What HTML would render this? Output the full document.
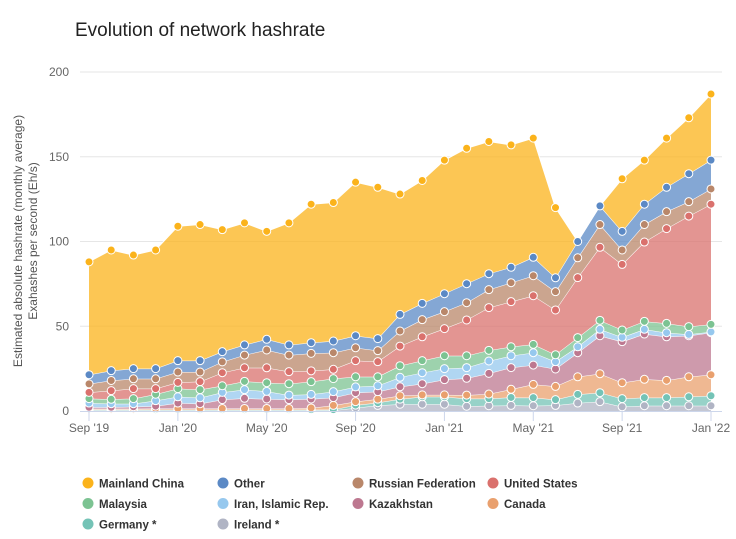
<!DOCTYPE html>
<html><head><meta charset="utf-8">
<style>
body{margin:0;background:#fff;font-family:"Liberation Sans",sans-serif;}
svg{display:block}
</style></head>
<body>
<svg id="chart" width="736" height="539" viewBox="0 0 736 539" xmlns="http://www.w3.org/2000/svg">
<text x="75" y="36" font-size="19" fill="#222" font-family="Liberation Sans, sans-serif">Evolution of network hashrate</text>
<g id="grid"></g>
<g id="areas"></g>
<g id="markers"></g>
<g id="axes"></g>
<g font-size="12" fill="#555" text-anchor="middle">
<text transform="translate(22,241) rotate(-90)">Estimated absolute hashrate (monthly average)</text>
<text transform="translate(37,241) rotate(-90)">Exahashes per second (Eh/s)</text>
</g>
<g id="legend"></g>
</svg>
<script>
const months = ["Sep '19","Oct '19","Nov '19","Dec '19","Jan '20","Feb '20","Mar '20","Apr '20","May '20","Jun '20","Jul '20","Aug '20","Sep '20","Oct '20","Nov '20","Dec '20","Jan '21","Feb '21","Mar '21","Apr '21","May '21","Jun '21","Jul '21","Aug '21","Sep '21","Oct '21","Nov '21","Dec '21","Jan '22"];
const xTickLabels = ["Sep '19","Jan '20","May '20","Sep '20","Jan '21","May '21","Sep '21","Jan '22"];
const yTicks = [0,50,100,150,200];
const ireland = [0.4,0.4,0.4,0.4,0.4,0.4,0.4,0.4,0.4,0.4,0.4,0.4,1.8,3.3,4,4,4,2.8,3.1,3.3,3.1,3.3,4.7,5.5,2.5,3.1,3.1,3.1,3.1];
const germany = [0.4,0.4,0.4,0.4,0.4,0.4,0.4,0.4,0.4,0.4,0.4,0.4,1.7,1.6,3,4.4,4.4,4.5,4.2,4.7,4.8,3.4,5.1,5.3,4.8,4.8,4.8,5.3,5.9];
const canada = [0.5,0.5,0.5,0.7,0.7,0.7,0.7,0.7,0.7,0.7,1.0,2.5,2.0,2.1,2.0,1.1,1.1,2.1,2.7,4.8,7.8,7.8,10.4,11.2,9.4,10.8,10.2,11.8,12.4];
const kazakhstan = [0.9,0.9,1.2,1.4,3.2,2.8,5.2,6.0,5.6,5.2,5.3,4.6,5.3,4.4,5.3,6.6,9.0,9.9,12.2,12.8,11.4,10.3,14.2,22.4,24.2,26.7,25.7,24.2,24.8];
const iran = [2.5,2.1,1.8,3.2,3.7,3.5,4.3,5.1,4.5,2.7,2.7,3.5,3.4,3.5,5.6,6.5,6.5,6.3,7.3,7.0,7.3,4.3,3.5,3.8,2.6,2.8,2.4,0.8,0.5];
const malaysia = [2.6,2.6,3.0,3.8,4.8,4.8,3.9,4.9,5.1,6.7,7.5,7.7,6.0,5.3,6.8,7.1,7.6,7.0,6.3,5.3,4.9,4.1,5.4,5.3,4.3,4.7,5.5,4.6,4.4];
const unitedStates = [3.7,5.1,5.9,3.3,3.7,4.7,7.7,8.0,8.8,7.1,6.4,5.5,9.5,8.9,11.6,14.1,16.0,21.1,25.2,26.6,28.7,26.4,35.4,43.1,38.7,46.8,55.9,65.2,70.9];
const russia = [5,6,5.8,5.8,6.1,5.7,6.4,7.5,10.5,9.8,10.3,9.8,7.6,6.5,8.9,10.1,10.0,10.2,10.6,11.2,11.8,10.8,11.7,13.4,8.5,10.3,10.0,8.5,9.0];
const other = [5.4,5.8,6.0,6.0,6.7,6.7,6.0,6.0,6.3,6.0,6.3,6.9,7.1,7.1,9.8,9.6,10.6,11.2,9.4,9.1,10.9,8.2,9.6,11.0,11.0,12.0,14.4,16.5,17.0];
const china = [66.6,71.2,67,70,79.3,80.3,72,72,63.7,72,81.7,81.7,90.6,89.3,71,72.5,78.8,79.9,78,72.2,70.3,41.4,null,null,31,26,29,33,39];

const NS="http://www.w3.org/2000/svg";
const X0=89,X1=711,Y0=411,Y1=72,YMAX=200;
const xs=i=>X0+(X1-X0)*i/(months.length-1);
const ys=v=>Y0-(Y0-Y1)*v/YMAX;
function mk(tag,attrs,parent){const e=document.createElementNS(NS,tag);for(const k in attrs)e.setAttribute(k,attrs[k]);parent.appendChild(e);return e;}

const grid=document.getElementById('grid');
yTicks.forEach(t=>{
  if(t>0){const l=mk('line',{x1:80,x2:722,y1:ys(t),y2:ys(t),stroke:'#e6e6e6','stroke-width':1},grid);
  
  }
  const tx=mk('text',{x:69,y:ys(t)+4,'text-anchor':'end','font-size':12,fill:'#666'},grid);
  tx.textContent=t;
  
  
});

const series=[
 {name:'Ireland *',data:ireland,color:'#b0b4c4',key:'ireland'},
 {name:'Germany *',data:germany,color:'#74c3b6',key:'germany'},
 {name:'Canada',data:canada,color:'#e9a06e',key:'canada'},
 {name:'Kazakhstan',data:kazakhstan,color:'#bd7890',key:'kazakhstan'},
 {name:'Iran, Islamic Rep.',data:iran,color:'#96c8ee',key:'iran'},
 {name:'Malaysia',data:malaysia,color:'#7cc392',key:'malaysia'},
 {name:'United States',data:unitedStates,color:'#da716d',key:'united-states'},
 {name:'Russian Federation',data:russia,color:'#b9876a',key:'russia'},
 {name:'Other',data:other,color:'#5b89c5',key:'other'},
 {name:'Mainland China',data:china,color:'#fbb31b',key:'china'}
];
const areas=document.getElementById('areas'),markers=document.getElementById('markers');
let base=months.map(()=>0);
series.forEach(s=>{
  const top=base.map((b,i)=>b+(s.data[i]||0));
  let d='M'+xs(0)+','+ys(top[0]);
  for(let i=1;i<top.length;i++)d+=' L'+xs(i)+','+ys(top[i]);
  for(let i=top.length-1;i>=0;i--)d+=' L'+xs(i)+','+ys(base[i]);
  d+='Z';
  const p=mk('path',{d:d,fill:s.color,'fill-opacity':0.75,stroke:'none'},areas);
  
  
  let ld='';top.forEach((v,i)=>{ld+=(i?' L':'M')+xs(i)+','+ys(v);});
  const ln=mk('path',{d:ld,fill:'none',stroke:'#fff','stroke-width':1},areas);
  
  
  top.forEach((v,i)=>{
    if(s.data[i]===null)return;
    const c=mk('circle',{cx:xs(i),cy:ys(v),r:4,fill:s.color,stroke:'#fff','stroke-width':1},markers);
    
    
  });
  base=top;
});

const axes=document.getElementById('axes');
const ax=mk('line',{x1:80,x2:722,y1:Y0+0.5,y2:Y0+0.5,stroke:'#ccd6eb','stroke-width':1},axes);


xTickLabels.forEach(lbl=>{
  const i=months.indexOf(lbl);
  const tk=mk('line',{x1:xs(i),x2:xs(i),y1:Y0,y2:Y0+10,stroke:'#ccd6eb','stroke-width':1},axes);
  
  
  const t=mk('text',{x:xs(i),y:432,'text-anchor':'middle','font-size':12,fill:'#666'},axes);
  t.textContent=lbl;
  
  
});

const legendOrder=['china','other','russia','united-states','malaysia','iran','kazakhstan','canada','germany','ireland'];
const colX=[88,223,358,493],rowY=[483,503.5,524];
const lg=document.getElementById('legend');
legendOrder.forEach((k,j)=>{
  const s=series.find(q=>q.key===k);
  const cx=colX[j%4],cy=rowY[Math.floor(j/4)];
  const g=mk('g',{},lg);
  
  
  mk('circle',{cx:cx,cy:cy,r:5.5,fill:s.color},g);
  const t=mk('text',{x:cx+11,y:cy+4.5,'font-size':11.5,'font-weight':'bold',fill:'#333'},g);
  t.textContent=s.name;
});
</script>
</body></html>
